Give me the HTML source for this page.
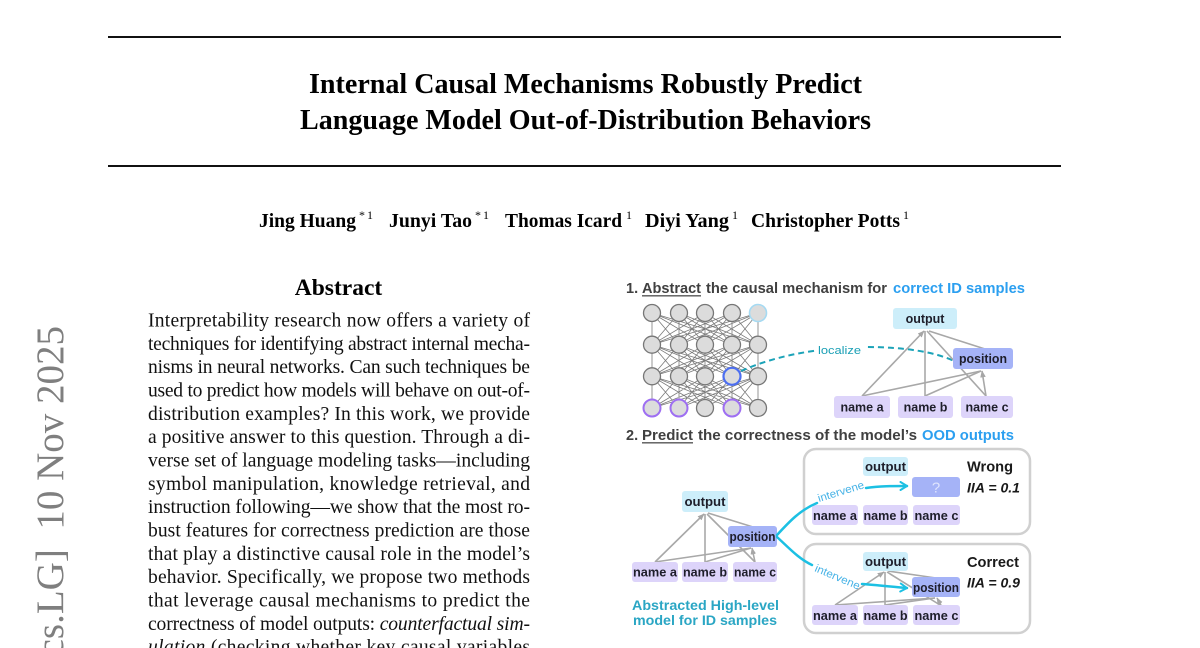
<!DOCTYPE html>
<html>
<head>
<meta charset="utf-8">
<style>
  html, body { margin:0; padding:0; background:#fff; }
  body { width:1200px; height:648px; overflow:hidden; }
  svg { display:block; }
  .serif { font-family: "Liberation Serif", "Times New Roman", serif; }
  .sans { font-family: "Liberation Sans", Arial, sans-serif; }
  .lbl { font-family: "Liberation Sans", Arial, sans-serif; font-weight:bold; font-size:12.5px; fill:#1e1e2a; text-anchor:middle; }
</style>
</head>
<body>
<svg width="1200" height="648" viewBox="0 0 1200 648" xmlns="http://www.w3.org/2000/svg">
  <defs>
    <marker id="ga" viewBox="0 0 10 10" refX="9" refY="5" markerWidth="7" markerHeight="7" markerUnits="userSpaceOnUse" orient="auto">
      <path d="M0,1 L10,5 L0,9z" fill="#a6a6a6"/>
    </marker>
    <marker id="ca" viewBox="0 0 10 10" refX="8" refY="5" markerWidth="4" markerHeight="4" markerUnits="strokeWidth" orient="auto">
      <path d="M1.5,1 L8,5 L1.5,9" fill="none" stroke="#1cc0e3" stroke-width="2" stroke-linecap="round" stroke-linejoin="round"/>
    </marker>
    <g id="gap">
      <path fill="none" stroke="#7a7a7a" stroke-width="0.8" d="M652 0L652 31.7M652 0L679 31.7M652 0L705 31.7M652 0L732 31.7M652 0L758 31.7M679 0L652 31.7M679 0L679 31.7M679 0L705 31.7M679 0L732 31.7M679 0L758 31.7M705 0L652 31.7M705 0L679 31.7M705 0L705 31.7M705 0L732 31.7M705 0L758 31.7M732 0L652 31.7M732 0L679 31.7M732 0L705 31.7M732 0L732 31.7M732 0L758 31.7M758 0L652 31.7M758 0L679 31.7M758 0L705 31.7M758 0L732 31.7M758 0L758 31.7"/>
    </g>
  </defs>

  <rect width="1200" height="648" fill="#fff"/>

  <!-- Rules -->
  <line x1="108" y1="37" x2="1061" y2="37" stroke="#111" stroke-width="2"/>
  <line x1="108" y1="166" x2="1061" y2="166" stroke="#111" stroke-width="2"/>

  <!-- Title -->
  <text class="serif" x="585.5" y="93" font-size="28" font-weight="bold" text-anchor="middle" fill="#000" textLength="553" lengthAdjust="spacingAndGlyphs">Internal Causal Mechanisms Robustly Predict</text>
  <text class="serif" x="585.5" y="129" font-size="28" font-weight="bold" text-anchor="middle" fill="#000" textLength="571" lengthAdjust="spacingAndGlyphs">Language Model Out-of-Distribution Behaviors</text>

  <!-- Authors -->
  <g class="serif" fill="#000">
    <text x="259" y="227" font-size="19.6" font-weight="bold" textLength="97" lengthAdjust="spacingAndGlyphs">Jing Huang</text>
    <text x="359" y="219" font-size="12">*</text><text x="367" y="219" font-size="12">1</text>
    <text x="389" y="227" font-size="19.6" font-weight="bold" textLength="83" lengthAdjust="spacingAndGlyphs">Junyi Tao</text>
    <text x="475" y="219" font-size="12">*</text><text x="483" y="219" font-size="12">1</text>
    <text x="505" y="227" font-size="19.6" font-weight="bold" textLength="117" lengthAdjust="spacingAndGlyphs">Thomas Icard</text>
    <text x="626" y="219" font-size="12">1</text>
    <text x="645" y="227" font-size="19.6" font-weight="bold" textLength="84" lengthAdjust="spacingAndGlyphs">Diyi Yang</text>
    <text x="732" y="219" font-size="12">1</text>
    <text x="751" y="227" font-size="19.6" font-weight="bold" textLength="149" lengthAdjust="spacingAndGlyphs">Christopher Potts</text>
    <text x="903" y="219" font-size="12">1</text>
  </g>

  <!-- arXiv stamp -->
  <text class="serif" transform="translate(63,326) rotate(-90)" text-anchor="end" font-size="39" fill="#7f7f7f" xml:space="preserve">[cs.LG]  10 Nov 2025</text>

  <!-- Abstract -->
  <text class="serif" x="338.5" y="295" font-size="23.5" font-weight="bold" text-anchor="middle" fill="#000">Abstract</text>
  <g class="serif" font-size="19.6" fill="#111">
    <text x="148" y="326.5" textLength="382" lengthAdjust="spacing">Interpretability research now offers a variety of</text>
    <text x="148" y="349.8" textLength="382" lengthAdjust="spacing">techniques for identifying abstract internal mecha-</text>
    <text x="148" y="373.2" textLength="382" lengthAdjust="spacing">nisms in neural networks. Can such techniques be</text>
    <text x="148" y="396.5" textLength="382" lengthAdjust="spacing">used to predict how models will behave on out-of-</text>
    <text x="148" y="419.8" textLength="382" lengthAdjust="spacing">distribution examples? In this work, we provide</text>
    <text x="148" y="443.2" textLength="382" lengthAdjust="spacing">a positive answer to this question. Through a di-</text>
    <text x="148" y="466.5" textLength="382" lengthAdjust="spacing">verse set of language modeling tasks—including</text>
    <text x="148" y="489.8" textLength="382" lengthAdjust="spacing">symbol manipulation, knowledge retrieval, and</text>
    <text x="148" y="513.1" textLength="382" lengthAdjust="spacing">instruction following—we show that the most ro-</text>
    <text x="148" y="536.5" textLength="382" lengthAdjust="spacing">bust features for correctness prediction are those</text>
    <text x="148" y="559.8" textLength="382" lengthAdjust="spacing">that play a distinctive causal role in the model’s</text>
    <text x="148" y="583.1" textLength="382" lengthAdjust="spacing">behavior. Specifically, we propose two methods</text>
    <text x="148" y="606.5" textLength="382" lengthAdjust="spacing">that leverage causal mechanisms to predict the</text>
    <text x="148" y="629.8" textLength="382" lengthAdjust="spacing">correctness of model outputs: <tspan font-style="italic">counterfactual sim-</tspan></text>
    <text x="148" y="653.1" textLength="382" lengthAdjust="spacing"><tspan font-style="italic">ulation</tspan> (checking whether key causal variables</text>
  </g>

  <!-- ===== Figure ===== -->
  <!-- Heading 1 -->
  <g class="sans" font-size="14.5" font-weight="bold" fill="#404040">
    <text x="626" y="293">1.</text>
    <text x="642" y="293" textLength="59" lengthAdjust="spacingAndGlyphs">Abstract</text>
    <text x="706" y="293" textLength="181" lengthAdjust="spacingAndGlyphs">the causal mechanism for</text>
    <text x="893" y="293" textLength="132" lengthAdjust="spacingAndGlyphs" fill="#2b9ff0">correct ID samples</text>
  </g>
  <line x1="642" y1="295.8" x2="701" y2="295.8" stroke="#555" stroke-width="1.3"/>

  <!-- Neural net -->
  <use href="#gap" transform="translate(0,313)"/>
  <use href="#gap" transform="translate(0,344.7)"/>
  <use href="#gap" transform="translate(0,376.3)"/>
  <g fill="#dcdcdc" stroke="#777" stroke-width="1.3">
    <circle cx="652" cy="313" r="8.5"/><circle cx="679" cy="313" r="8.5"/><circle cx="705" cy="313" r="8.5"/><circle cx="732" cy="313" r="8.5"/>
    <circle cx="758" cy="313" r="8.5" stroke="#a6daf2" stroke-width="1.6"/>
    <circle cx="652" cy="344.7" r="8.5"/><circle cx="679" cy="344.7" r="8.5"/><circle cx="705" cy="344.7" r="8.5"/><circle cx="732" cy="344.7" r="8.5"/><circle cx="758" cy="344.7" r="8.5"/>
    <circle cx="652" cy="376.3" r="8.5"/><circle cx="679" cy="376.3" r="8.5"/><circle cx="705" cy="376.3" r="8.5"/>
    <circle cx="732" cy="376.3" r="8.5" stroke="#4d6ff0" stroke-width="2.2"/>
    <circle cx="758" cy="376.3" r="8.5"/>
    <circle cx="652" cy="408" r="8.5" stroke="#9e6ff2" stroke-width="2"/>
    <circle cx="679" cy="408" r="8.5" stroke="#9e6ff2" stroke-width="2"/>
    <circle cx="705" cy="408" r="8.5"/>
    <circle cx="732" cy="408" r="8.5" stroke="#9e6ff2" stroke-width="2"/>
    <circle cx="758" cy="408" r="8.5"/>
  </g>

  <!-- Localize dashed curve -->
  <path d="M741,371 C775,356 815,348 865,347 C905,347 935,352 954,361" fill="none" stroke="#1ca3b8" stroke-width="2" stroke-dasharray="6 4"/>
  <rect x="816" y="340" width="48" height="16" fill="#fff"/>
  <text class="sans" x="818" y="354" font-size="11" fill="#1a9fb5" textLength="43" lengthAdjust="spacingAndGlyphs">localize</text>

  <!-- Top right causal graph -->
  <g stroke="#a8a8a8" stroke-width="1.6" fill="none">
    <line x1="862" y1="396" x2="924" y2="331" marker-end="url(#ga)"/>
    <line x1="925" y1="396" x2="925" y2="331"/>
    <line x1="986" y1="396" x2="927" y2="331"/>
    <line x1="929" y1="331" x2="985" y2="349"/>
    <line x1="862" y1="396" x2="981" y2="371"/>
    <line x1="925" y1="396" x2="981" y2="371"/>
    <line x1="986" y1="396" x2="982" y2="371" marker-end="url(#ga)"/>
  </g>
  <rect x="893" y="308" width="64" height="21" rx="3" fill="#cdeefa"/>
  <text class="lbl" x="925" y="323">output</text>
  <rect x="953" y="348" width="60" height="21" rx="3" fill="#a5b3f7"/>
  <text class="lbl" x="983" y="363" textLength="48" lengthAdjust="spacingAndGlyphs">position</text>
  <rect x="834" y="396" width="56" height="22" rx="3" fill="#ddd4fa"/>
  <text class="lbl" x="862" y="411.5">name a</text>
  <rect x="898" y="396" width="55" height="22" rx="3" fill="#ddd4fa"/>
  <text class="lbl" x="925.5" y="411.5">name b</text>
  <rect x="961" y="396" width="52" height="22" rx="3" fill="#ddd4fa"/>
  <text class="lbl" x="987" y="411.5">name c</text>

  <!-- Heading 2 -->
  <g class="sans" font-size="14.5" font-weight="bold" fill="#404040">
    <text x="626" y="440">2.</text>
    <text x="642" y="440" textLength="51" lengthAdjust="spacingAndGlyphs">Predict</text>
    <text x="698" y="440" textLength="219" lengthAdjust="spacingAndGlyphs">the correctness of the model’s</text>
    <text x="922" y="440" textLength="92" lengthAdjust="spacingAndGlyphs" fill="#2b9ff0">OOD outputs</text>
  </g>
  <line x1="642" y1="442.8" x2="693" y2="442.8" stroke="#555" stroke-width="1.3"/>

  <!-- Left abstracted high-level model -->
  <g stroke="#a8a8a8" stroke-width="1.6" fill="none">
    <line x1="655" y1="562" x2="704" y2="514" marker-end="url(#ga)"/>
    <line x1="705" y1="562" x2="705" y2="514"/>
    <line x1="755" y1="562" x2="707" y2="514"/>
    <line x1="708" y1="513" x2="753" y2="527"/>
    <line x1="655" y1="562" x2="751" y2="548"/>
    <line x1="705" y1="562" x2="751" y2="548"/>
    <line x1="755" y1="562" x2="752" y2="548" marker-end="url(#ga)"/>
  </g>
  <rect x="682" y="491" width="46" height="21" rx="3" fill="#cdeefa"/>
  <text class="lbl" x="705" y="506" textLength="41" lengthAdjust="spacingAndGlyphs">output</text>
  <rect x="728" y="526" width="49" height="21" rx="3" fill="#a5b3f7"/>
  <text class="lbl" x="752.5" y="541" textLength="46" lengthAdjust="spacingAndGlyphs">position</text>
  <rect x="632" y="562" width="46" height="20" rx="3" fill="#ddd4fa"/>
  <text class="lbl" x="655" y="576.5" textLength="44" lengthAdjust="spacingAndGlyphs">name a</text>
  <rect x="682" y="562" width="46" height="20" rx="3" fill="#ddd4fa"/>
  <text class="lbl" x="705" y="576.5" textLength="44" lengthAdjust="spacingAndGlyphs">name b</text>
  <rect x="733" y="562" width="44" height="20" rx="3" fill="#ddd4fa"/>
  <text class="lbl" x="755" y="576.5" textLength="42" lengthAdjust="spacingAndGlyphs">name c</text>

  <text class="sans" x="705.5" y="610" font-size="14" font-weight="bold" fill="#2aa6c4" text-anchor="middle" textLength="147" lengthAdjust="spacingAndGlyphs">Abstracted High-level</text>
  <text class="sans" x="705" y="625" font-size="14" font-weight="bold" fill="#2aa6c4" text-anchor="middle" textLength="144" lengthAdjust="spacingAndGlyphs">model for ID samples</text>

  <!-- Wrong box -->
  <rect x="804" y="449" width="226" height="85" rx="12" fill="#fff" stroke="#d0d0d0" stroke-width="2.5"/>
  <rect x="863" y="457" width="45" height="19" rx="3" fill="#cdeefa"/>
  <text class="lbl" x="885.5" y="471" textLength="41" lengthAdjust="spacingAndGlyphs">output</text>
  <rect x="912" y="477" width="48" height="20" rx="3" fill="#a5b3f7"/>
  <text class="sans" x="936" y="492.5" font-size="15" fill="#dfe4fd" text-anchor="middle">?</text>
  <rect x="812" y="505" width="46" height="20" rx="3" fill="#ddd4fa"/>
  <text class="lbl" x="835" y="520" textLength="44" lengthAdjust="spacingAndGlyphs">name a</text>
  <rect x="863" y="505" width="45" height="20" rx="3" fill="#ddd4fa"/>
  <text class="lbl" x="885.5" y="520" textLength="44" lengthAdjust="spacingAndGlyphs">name b</text>
  <rect x="913" y="505" width="47" height="20" rx="3" fill="#ddd4fa"/>
  <text class="lbl" x="936.5" y="520" textLength="44" lengthAdjust="spacingAndGlyphs">name c</text>
  <text class="sans" x="967" y="471.5" font-size="15" font-weight="bold" fill="#1a1a1a" textLength="46" lengthAdjust="spacingAndGlyphs">Wrong</text>
  <text class="sans" x="967" y="492.5" font-size="13.5" font-weight="bold" font-style="italic" fill="#1a1a1a" textLength="53" lengthAdjust="spacingAndGlyphs">IIA = 0.1</text>

  <!-- Correct box -->
  <rect x="804" y="544" width="226" height="89" rx="12" fill="#fff" stroke="#d0d0d0" stroke-width="2.5"/>
  <g stroke="#a8a8a8" stroke-width="1.6" fill="none">
    <line x1="835" y1="605" x2="884" y2="572" marker-end="url(#ga)"/>
    <line x1="885" y1="605" x2="885" y2="572"/>
    <line x1="940" y1="605" x2="887" y2="572"/>
    <line x1="888" y1="571" x2="936" y2="578"/>
    <line x1="835" y1="605" x2="935" y2="598"/>
    <line x1="885" y1="605" x2="935" y2="598"/>
    <line x1="941" y1="605" x2="937" y2="598" marker-end="url(#ga)"/>
  </g>
  <rect x="863" y="552" width="45" height="19" rx="3" fill="#cdeefa"/>
  <text class="lbl" x="885.5" y="566" textLength="41" lengthAdjust="spacingAndGlyphs">output</text>
  <rect x="912" y="577" width="48" height="20" rx="3" fill="#a5b3f7"/>
  <text class="lbl" x="936" y="592" textLength="46" lengthAdjust="spacingAndGlyphs">position</text>
  <rect x="812" y="605" width="46" height="20" rx="3" fill="#ddd4fa"/>
  <text class="lbl" x="835" y="620" textLength="44" lengthAdjust="spacingAndGlyphs">name a</text>
  <rect x="863" y="605" width="45" height="20" rx="3" fill="#ddd4fa"/>
  <text class="lbl" x="885.5" y="620" textLength="44" lengthAdjust="spacingAndGlyphs">name b</text>
  <rect x="913" y="605" width="47" height="20" rx="3" fill="#ddd4fa"/>
  <text class="lbl" x="936.5" y="620" textLength="44" lengthAdjust="spacingAndGlyphs">name c</text>
  <text class="sans" x="967" y="567" font-size="15" font-weight="bold" fill="#1a1a1a" textLength="52" lengthAdjust="spacingAndGlyphs">Correct</text>
  <text class="sans" x="967" y="587.5" font-size="13.5" font-weight="bold" font-style="italic" fill="#1a1a1a" textLength="53" lengthAdjust="spacingAndGlyphs">IIA = 0.9</text>

  <!-- Intervene arrows -->
  <path d="M777,535 C789,522 800,510 817,503" fill="none" stroke="#1cc0e3" stroke-width="2.5" stroke-linecap="round"/>
  <text class="sans" transform="translate(819,502) rotate(-17)" font-size="11" fill="#45b2e6" textLength="48" lengthAdjust="spacingAndGlyphs">intervene</text>
  <path d="M866,488 C880,486 893,486 907,486" fill="none" stroke="#1cc0e3" stroke-width="2.5" stroke-linecap="round" marker-end="url(#ca)"/>

  <path d="M777,537 C789,548 799,559 812,565" fill="none" stroke="#1cc0e3" stroke-width="2.5" stroke-linecap="round"/>
  <text class="sans" transform="translate(814,571) rotate(23)" font-size="11" fill="#45b2e6" textLength="48" lengthAdjust="spacingAndGlyphs">intervene</text>
  <path d="M862,584 C878,585 893,587 907,588" fill="none" stroke="#1cc0e3" stroke-width="2.5" stroke-linecap="round" marker-end="url(#ca)"/>
</svg>
</body>
</html>
